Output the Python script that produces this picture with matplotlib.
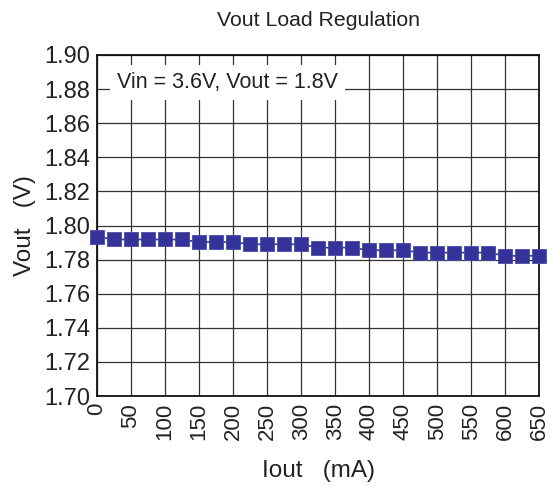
import matplotlib
matplotlib.use("Agg")
import matplotlib.pyplot as plt

plt.rcParams['font.family'] = ['Liberation Sans', 'DejaVu Sans']

iout = [0, 25, 50, 75, 100, 125, 150, 175, 200, 225, 250, 275, 300, 325,
        350, 375, 400, 425, 450, 475, 500, 525, 550, 575, 600, 625, 650]
vout = [1.7935, 1.7918, 1.7918, 1.7918, 1.7918, 1.7918, 1.7903, 1.7903, 1.7903,
        1.7890, 1.7890, 1.7890, 1.7890, 1.7870, 1.7870, 1.7870, 1.7855, 1.7855,
        1.7855, 1.7841, 1.7841, 1.7841, 1.7841, 1.7841, 1.7822, 1.7822, 1.7822]
xticks = list(range(0, 651, 50))
yticks = [1.70, 1.72, 1.74, 1.76, 1.78, 1.80, 1.82, 1.84, 1.86, 1.88, 1.90]

fig = plt.figure(figsize=(5.51, 4.86), dpi=100)
ax = fig.add_axes([0.176, 0.185, 0.803, 0.702])

ax.plot(iout, vout, color='#333399', marker='s', markersize=10.5,
        markeredgecolor='#4a4aa8', markeredgewidth=0.6, linewidth=1.2,
        zorder=5, clip_on=False)

ax.set_xlim(0, 650)
ax.set_ylim(1.70, 1.90)
ax.set_xticks(xticks)
ax.set_yticks(yticks)
ax.set_xticklabels([str(x) for x in xticks], rotation=90, fontsize=16, color='#222222')
ax.set_yticklabels([f"{y:.2f}" for y in yticks], fontsize=17, color='#222222')
ax.tick_params(axis='y', length=0, pad=5)
ax.tick_params(axis='x', length=0, pad=5)
ax.grid(True, color='#333333', linewidth=0.9)
ax.set_axisbelow(True)
for s in ax.spines.values():
    s.set_linewidth(1.3)
    s.set_color('#111111')

ax.text(29, 1.884, "Vin = 3.6V, Vout = 1.8V", fontsize=15.5, va='center', ha='left',
        color='#222222',
        bbox=dict(facecolor='white', edgecolor='none', pad=5), zorder=4)

ax.set_title("Vout Load Regulation", fontsize=15.3, pad=21, color='#222222')
ax.set_xlabel("Iout   (mA)", fontsize=17.5, labelpad=14, color='#222222')
ax.set_ylabel("Vout   (V)", fontsize=17.5, labelpad=6, color='#222222')

fig.savefig("out.png", dpi=100)
